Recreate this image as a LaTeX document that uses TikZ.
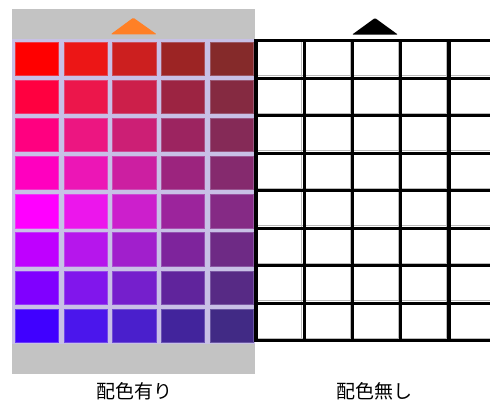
\documentclass[tikz,border=0pt]{standalone}
\usepackage{fontspec}
\newfontfamily\jpfont{Noto Sans CJK JP}
\definecolor{panelgray}{RGB}{195,195,195}
\definecolor{lavgrid}{RGB}{200,192,230}
\definecolor{triorange}{RGB}{255,128,38}
\definecolor{cellshade}{RGB}{185,185,185}
\tikzset{
  label text/.style={font=\jpfont\fontsize{19}{19}\selectfont, inner sep=0pt, anchor=center},
  blackline/.style={line width=3.2pt, black},
  shadeline/.style={line width=1pt, cellshade},
}
\begin{document}
\begin{tikzpicture}[x=1pt,y=-1pt]
\useasboundingbox (0,0) rectangle (490,401);
\clip (0,0) rectangle (490,401);
\fill[white] (0,0) rectangle (490,401);
% left panel
\fill[panelgray] (11.7,9) rectangle (255,373.5);
\fill[lavgrid] (11.7,39.3) rectangle (255,344);
\foreach \i in {0,...,7}{
  \foreach \j/\sv/\bv in {0/1/1, 1/0.907/0.925, 2/0.85/0.8, 3/0.77/0.61, 4/0.68/0.52}{
    \pgfmathsetmacro{\hv}{mod(360-15*\i,360)}
    \definecolor{cchsb}{Hsb}{\hv,\sv,\bv}
    \colorlet{cc}[rgb]{cchsb}
    \colorlet{ccedge}[rgb]{cc!70!lavgrid}
    \pgfmathsetmacro{\xa}{15+48.66*\j}
    \pgfmathsetmacro{\ya}{42+38.09*\i}
    \fill[cc] (\xa,\ya) rectangle ++(44,34);
    \draw[ccedge, line width=0.8pt] (\xa+0.4,\ya+0.4) rectangle ++(43.2,33.2);
  }
}
\fill[triorange, rounded corners=1pt] (110.7,34.3) -- (133.3,17.7) -- (156.7,34.3) -- cycle;
% right panel
\foreach \i in {1,...,8}{
  \pgfmathsetmacro{\yy}{40.7+37.5*\i-2.3}
  \draw[shadeline] (256,\yy) -- (495,\yy);
}
\foreach \j in {1,...,5}{
  \pgfmathsetmacro{\xx}{256+48.25*\j-2.3}
  \draw[shadeline] (\xx,40.7) -- (\xx,340.7);
}
\foreach \i in {0,...,8}{
  \pgfmathsetmacro{\yy}{40.7+37.5*\i}
  \draw[blackline] (254.4,\yy) -- (500,\yy);
}
\foreach \j in {0,...,5}{
  \pgfmathsetmacro{\xx}{256+48.25*\j}
  \draw[blackline] (\xx,39.1) -- (\xx,342.3);
}
\fill[black, rounded corners=1pt] (352,34.7) -- (375,18) -- (398,34.7) -- cycle;
% labels
\node[label text] (lblA) at (134,391) {配色有り};
\node[label text] (lblB) at (374,391) {配色無し};
\end{tikzpicture}
\end{document}
